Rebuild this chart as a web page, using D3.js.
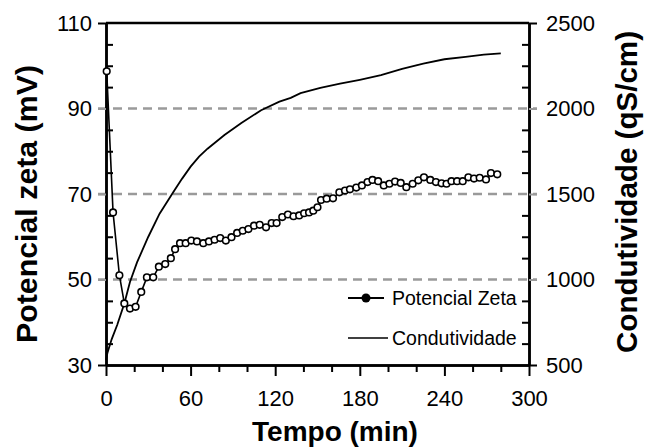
<!DOCTYPE html>
<html>
<head>
<meta charset="utf-8">
<script src="https://cdn.jsdelivr.net/npm/d3@7"></script>
<style>
  body { margin: 0; background: #fff; }
  svg { font-family: "Liberation Sans", Arial, sans-serif; }
</style>
</head>
<body>
<svg id="chart" width="646" height="448"></svg>
<script>
// data
var zetaTime = [0.5, 5, 9.5, 13, 17, 21, 25, 29, 33.5, 37.5, 42, 46, 49, 52.5, 56.5,
  60.5, 64.5, 69, 73, 77, 81, 85, 89, 93, 97, 101, 105, 109, 113.5, 117.5,
  121, 125, 129, 133, 137, 140.5, 144, 147, 150, 152.5, 156.5, 161, 165.5, 169.5, 173,
  177.5, 181.5, 185.5, 189, 193, 197, 201, 205, 209, 213, 217.5, 221.5, 225.5, 230, 234,
  238, 241.5, 245, 249, 253, 257, 261, 265, 269.5, 273, 277.5];
var zetaValue = [98.7, 65.7, 51, 44.4, 43.2, 43.6, 47.1, 50.5, 50.5, 53, 53.6, 55, 57.1, 58.5, 58.5,
  59.1, 58.9, 58.5, 58.9, 59.3, 59.7, 59.1, 59.9, 60.9, 61.4, 61.8, 62.6, 62.8, 62.2, 63.2,
  63.2, 64.6, 65.2, 64.8, 65, 65.5, 65.7, 66.1, 66.9, 68.6, 68.9, 69, 70.4, 70.8, 71.1,
  71.5, 72, 72.8, 73.3, 73, 72, 72.4, 72.9, 72.6, 71.6, 72.4, 73.2, 73.9, 73.3, 72.8,
  72.5, 72.4, 73, 73, 73, 73.9, 73.6, 73.8, 73.4, 74.9, 74.6];

var condTime = [0, 1, 4, 8, 13, 17, 22, 30, 38, 48, 54, 60, 66, 72, 84, 96, 110, 123, 131, 138,
  152, 166, 180, 195, 210, 225, 240, 255, 268, 280];
var condValue = [530, 570, 650, 735, 860, 985, 1100, 1250, 1385, 1515, 1590, 1660, 1718, 1765,
  1845, 1915, 1990, 2040, 2062, 2090, 2120, 2145, 2168, 2195, 2232, 2262, 2288, 2302, 2315, 2322];

var xTicks = [0, 60, 120, 180, 240, 300];
var xMinor = [20, 40, 80, 100, 140, 160, 200, 220, 260, 280];
var yTicks = [30, 50, 70, 90, 110];
var yMinor = [35, 40, 45, 55, 60, 65, 75, 80, 85, 95, 100, 105];
var y2Ticks = [500, 1000, 1500, 2000, 2500];
var y2Minor = [625, 750, 875, 1125, 1250, 1375, 1625, 1750, 1875, 2125, 2250, 2375];
var gridValues = [50, 70, 90];

var plotLeft = 106, plotRight = 529, plotTop = 23, plotBottom = 365;

var svg = d3.select("#chart");

var x = d3.scaleLinear().domain([0, 300]).range([plotLeft, plotRight]);
var y = d3.scaleLinear().domain([30, 110]).range([plotBottom, plotTop]);
var y2 = d3.scaleLinear().domain([500, 2500]).range([plotBottom, plotTop]);

// dashed grid lines, they poke out past both axes a little
svg.append("g").selectAll("line")
  .data(gridValues)
  .enter().append("line")
  .attr("x1", plotLeft - 8).attr("x2", plotRight + 8)
  .attr("y1", function(d) { return y(d); })
  .attr("y2", function(d) { return y(d); })
  .attr("stroke", "#9a9a9a")
  .attr("stroke-width", 2.5)
  .attr("stroke-dasharray", "9,6");

function styleAxis(g, size) {
  g.selectAll("path.domain").attr("stroke", "#000").attr("stroke-width", 2.5);
  g.selectAll(".tick line").attr("stroke", "#000").attr("stroke-width", 2);
  g.selectAll("text").attr("fill", "#000")
    .style("font-family", "'Liberation Sans', Arial, sans-serif")
    .style("font-size", size + "px");
}

// minor ticks inside
svg.append("g").attr("transform", "translate(" + plotLeft + ",0)")
  .call(d3.axisRight(y).tickValues(yMinor).tickSize(7).tickSizeOuter(0).tickFormat(""))
  .call(styleAxis, 22);
svg.append("g").attr("transform", "translate(" + plotRight + ",0)")
  .call(d3.axisLeft(y2).tickValues(y2Minor).tickSize(7).tickSizeOuter(0).tickFormat(""))
  .call(styleAxis, 22);
svg.append("g").attr("transform", "translate(0," + plotBottom + ")")
  .call(d3.axisBottom(x).tickValues(xMinor).tickSize(7).tickSizeOuter(0).tickFormat(""))
  .call(styleAxis, 22);

// major axes
var gLeft = svg.append("g").attr("transform", "translate(" + plotLeft + ",0)")
  .call(d3.axisLeft(y).tickValues(yTicks).tickSize(8).tickSizeOuter(0).tickPadding(6))
  .call(styleAxis, 22);
gLeft.selectAll(".tick").filter(function(d) { return gridValues.indexOf(d) >= 0; })
  .select("line").attr("stroke", "#9a9a9a");

var gRight = svg.append("g").attr("transform", "translate(" + plotRight + ",0)")
  .call(d3.axisRight(y2).tickValues(y2Ticks).tickSize(8).tickSizeOuter(0).tickPadding(9)
    .tickFormat(d3.format("d")))
  .call(styleAxis, 22);
gRight.selectAll(".tick").filter(function(d) { return d > 500 && d < 2500; })
  .select("line").attr("stroke", "#9a9a9a");

svg.append("g").attr("transform", "translate(0," + plotBottom + ")")
  .call(d3.axisBottom(x).tickValues(xTicks).tickSize(11).tickSizeOuter(0).tickPadding(14))
  .call(styleAxis, 22);

// top frame line
svg.append("line")
  .attr("x1", plotLeft).attr("x2", plotRight)
  .attr("y1", plotTop).attr("y2", plotTop)
  .attr("stroke", "#000").attr("stroke-width", 2.5);

// conductivity
var condLine = d3.line()
  .x(function(d, i) { return x(condTime[i]); })
  .y(function(d) { return y2(d); });
svg.append("path")
  .attr("d", condLine(condValue))
  .attr("fill", "none")
  .attr("stroke", "#000")
  .attr("stroke-width", 1.8);

// zeta potential
var zetaLine = d3.line()
  .x(function(d, i) { return x(zetaTime[i]); })
  .y(function(d) { return y(d); });
svg.append("path")
  .attr("d", zetaLine(zetaValue))
  .attr("fill", "none")
  .attr("stroke", "#000")
  .attr("stroke-width", 1.6);
svg.append("g").selectAll("circle")
  .data(zetaValue)
  .enter().append("circle")
  .attr("cx", function(d, i) { return x(zetaTime[i]); })
  .attr("cy", function(d) { return y(d); })
  .attr("r", 3.3)
  .attr("fill", "#fff")
  .attr("stroke", "#000")
  .attr("stroke-width", 1.6);

// legend
var legend = svg.append("g");
legend.append("line").attr("x1", 348).attr("x2", 384).attr("y1", 298).attr("y2", 298)
  .attr("stroke", "#000").attr("stroke-width", 2);
legend.append("circle").attr("cx", 366).attr("cy", 298).attr("r", 4.5).attr("fill", "#000");
legend.append("text").attr("x", 392).attr("y", 305).text("Potencial Zeta")
  .style("font-size", "19.5px");
legend.append("line").attr("x1", 348).attr("x2", 388).attr("y1", 338).attr("y2", 338)
  .attr("stroke", "#000").attr("stroke-width", 1.5);
legend.append("text").attr("x", 392).attr("y", 345).text("Condutividade")
  .style("font-size", "19.5px");

// axis titles
svg.append("text")
  .attr("x", 335).attr("y", 441)
  .attr("text-anchor", "middle")
  .style("font-size", "28px").style("font-weight", "bold")
  .text("Tempo (min)");
svg.append("text")
  .attr("transform", "translate(37,204) rotate(-90)")
  .attr("text-anchor", "middle")
  .attr("textLength", 278).attr("lengthAdjust", "spacingAndGlyphs")
  .style("font-size", "29px").style("font-weight", "bold")
  .text("Potencial zeta (mV)");
svg.append("text")
  .attr("transform", "translate(637,192) rotate(-90)")
  .attr("text-anchor", "middle")
  .attr("textLength", 322).attr("lengthAdjust", "spacingAndGlyphs")
  .style("font-size", "29px").style("font-weight", "bold")
  .text("Condutividade (qS/cm)");
</script>
</body>
</html>
